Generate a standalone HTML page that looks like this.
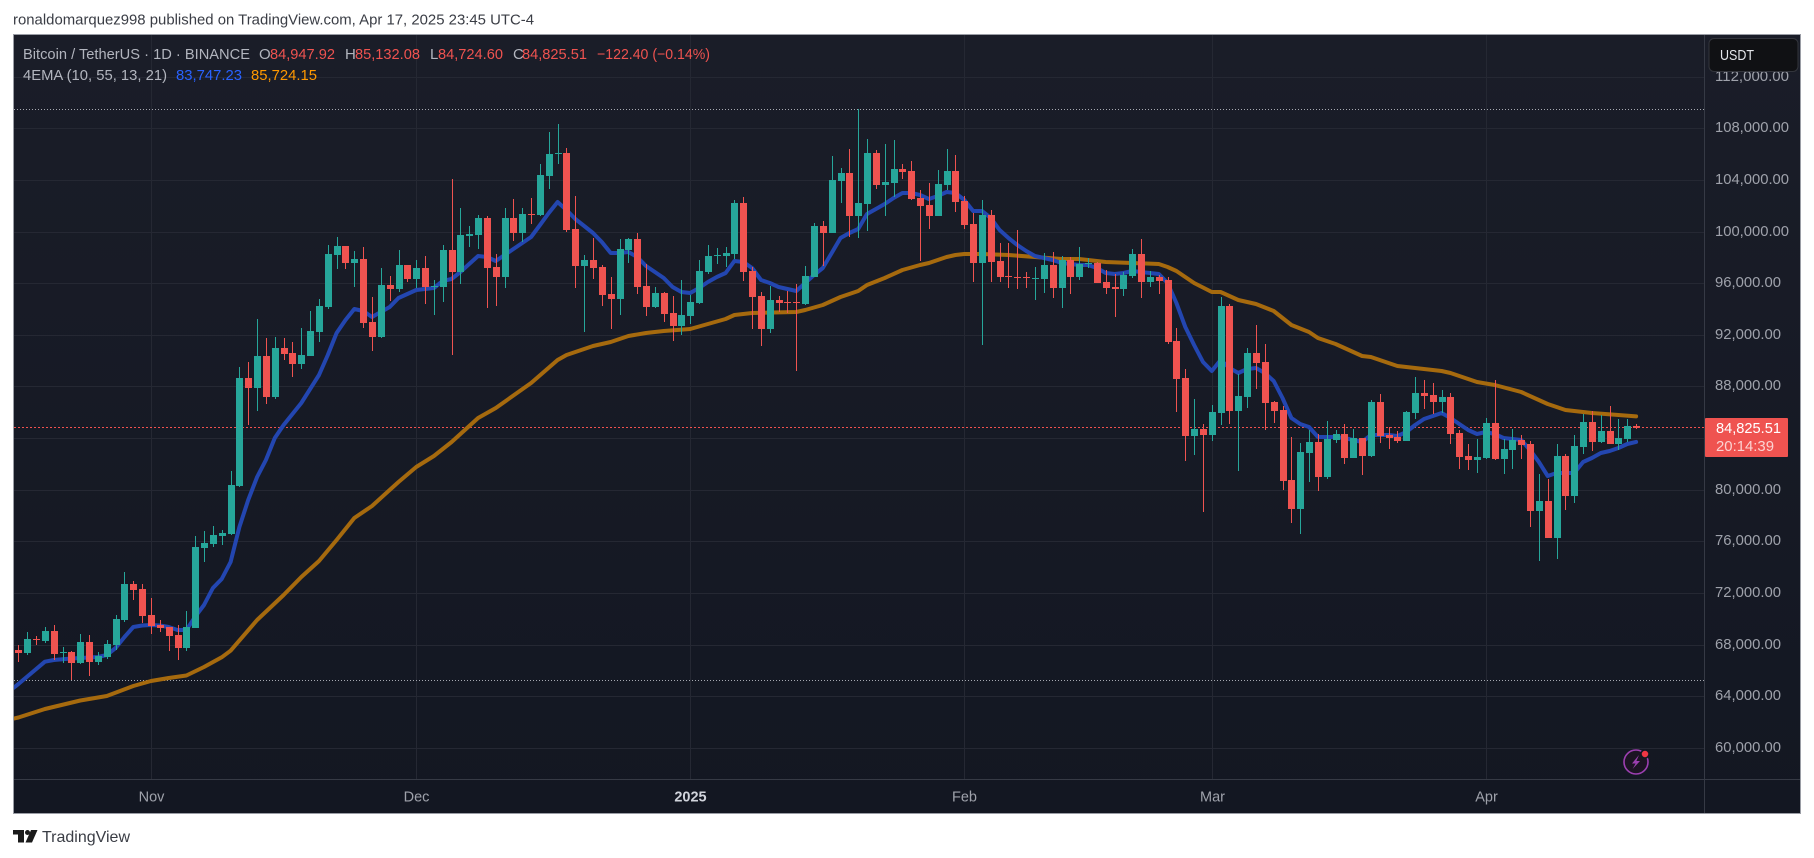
<!DOCTYPE html>
<html lang="en">
<head>
<meta charset="utf-8">
<title>Bitcoin / TetherUS 1D chart</title>
<style>
html,body{margin:0;padding:0;background:#fff;width:1814px;height:858px;overflow:hidden}
svg{display:block;font-family:"Liberation Sans",sans-serif}
</style>
</head>
<body>
<svg id="chart" width="1814" height="858" viewBox="0 0 1814 858" xmlns="http://www.w3.org/2000/svg">
  <defs>
    <linearGradient id="bgGrad" x1="0" y1="0" x2="0" y2="1">
      <stop offset="0" stop-color="#1a1d28"/>
      <stop offset="1" stop-color="#131722"/>
    </linearGradient>
    <clipPath id="plotClip"><rect x="14" y="35" width="1690" height="744"/></clipPath>
  </defs>
  <rect x="0" y="0" width="1814" height="858" fill="#ffffff"/>
  <text x="13" y="24.5" font-size="15" fill="#3a3d45" textLength="521" lengthAdjust="spacingAndGlyphs">ronaldomarquez998 published on TradingView.com, Apr 17, 2025 23:45 UTC-4</text>
  <rect x="13.5" y="34.5" width="1787" height="779" fill="url(#bgGrad)" stroke="#9a9da5" stroke-width="1"/>
  <g id="gridLayer"></g>
  <g id="priceLineLayer"></g>
  <g id="lineLayer" clip-path="url(#plotClip)"></g>
  <g id="candleLayer" clip-path="url(#plotClip)"></g>
  <line x1="1704.5" y1="35" x2="1704.5" y2="813" stroke="#363a45"/>
  <line x1="14" y1="779.5" x2="1800" y2="779.5" stroke="#363a45"/>
  <g id="yTickLayer"></g>
  <g id="xTickLayer"></g>

  <g font-size="15">
    <text x="23" y="59" fill="#b2b5be" textLength="227" lengthAdjust="spacingAndGlyphs">Bitcoin / TetherUS · 1D · BINANCE</text>
    <text x="259" y="59" fill="#b2b5be">O</text>
    <text x="270" y="59" fill="#ef5350" textLength="65" lengthAdjust="spacingAndGlyphs">84,947.92</text>
    <text x="345" y="59" fill="#b2b5be">H</text>
    <text x="355" y="59" fill="#ef5350" textLength="65" lengthAdjust="spacingAndGlyphs">85,132.08</text>
    <text x="430" y="59" fill="#b2b5be">L</text>
    <text x="438" y="59" fill="#ef5350" textLength="65" lengthAdjust="spacingAndGlyphs">84,724.60</text>
    <text x="513" y="59" fill="#b2b5be">C</text>
    <text x="522" y="59" fill="#ef5350" textLength="65" lengthAdjust="spacingAndGlyphs">84,825.51</text>
    <text x="597" y="59" fill="#ef5350" textLength="113" lengthAdjust="spacingAndGlyphs">−122.40 (−0.14%)</text>
  </g>
  <g font-size="15">
    <text x="23" y="80" fill="#b2b5be" textLength="144" lengthAdjust="spacingAndGlyphs">4EMA (10, 55, 13, 21)</text>
    <text x="176" y="80" fill="#2962ff" textLength="66" lengthAdjust="spacingAndGlyphs">83,747.23</text>
    <text x="251" y="80" fill="#ff9800" textLength="66" lengthAdjust="spacingAndGlyphs">85,724.15</text>
  </g>

  <g>
    <rect x="1709" y="38.5" width="89" height="33" rx="5" fill="#101114" stroke="#33353c"/>
    <text x="1720" y="60" font-size="15" fill="#e4e6ea" textLength="34" lengthAdjust="spacingAndGlyphs">USDT</text>
  </g>

  <g>
    <rect x="1705" y="418" width="83" height="39" rx="1" fill="#ef5350"/>
    <text x="1716" y="433" font-size="15" fill="#ffffff" textLength="65" lengthAdjust="spacingAndGlyphs">84,825.51</text>
    <text x="1716" y="451" font-size="15" fill="#fbd3d2" textLength="58" lengthAdjust="spacingAndGlyphs">20:14:39</text>
  </g>

  <g>
    <circle cx="1636" cy="762" r="12" fill="#1c1423" stroke="#9c3fb0" stroke-width="1.6"/>
    <polygon points="1639,755 1632,763.5 1635.6,763.5 1632.6,769 1640,761 1636.4,761" fill="#9c3fb0"/>
    <circle cx="1645" cy="754" r="4" fill="#f23645" stroke="#131722" stroke-width="1.5"/>
  </g>

  <g>
    <rect x="13" y="830" width="11" height="4.5" fill="#1a1a1a"/>
    <rect x="18" y="830" width="6" height="12.5" fill="#1a1a1a"/>
    <circle cx="27.5" cy="832.5" r="2.5" fill="#1a1a1a"/>
    <polygon points="31,830 37.5,830 32,842.5 25.5,842.5" fill="#1a1a1a"/>
    <text x="42" y="842" font-size="16" fill="#3a3d45" textLength="88" lengthAdjust="spacingAndGlyphs">TradingView</text>
  </g>
</svg>
<script>
// Candle series, one entry per trading day, first candle 2024-10-17
const opens = [67620,67380,68470,68310,69090,67380,67460,66610,68240,66690,
67070,68000,69940,72730,72340,70330,69550,69400,68780,67770,
69320,75520,75830,76450,76610,80330,88700,87920,90400,87220,
91020,90630,89780,90400,92260,94200,98230,98930,97610,97920,
93040,91870,95900,95590,97450,96370,97220,95750,95750,98620,
96910,99700,99780,101100,97300,96520,101100,99930,101410,101330,
104350,106060,106130,100240,97380,97840,97300,95210,94820,98620,
99470,95830,94200,95280,93730,92730,93500,94510,96910,98150,
98150,98310,102260,96990,95050,92490,94740,94590,94590,94430,
96520,100480,99930,103960,104580,101250,102180,106130,103650,103810,
104890,104740,102650,102100,101250,103650,104740,102410,100630,97610,
101330,97760,96600,96520,96520,96370,96370,97450,95670,97840,
96520,97530,97610,96140,95750,95590,96600,98310,96140,96520,
96290,91560,88700,84200,84740,84280,85980,94280,86140,87220,
90630,89940,86840,86220,80790,78540,82880,83740,81020,83890,
84360,82500,84050,82650,86840,84280,84120,83810,85980,87530,
87380,86840,87220,84430,82650,82340,82500,85210,82420,83120,
83890,83580,78390,79160,76300,82650,79550,83350,85290,83740,
84590,83580,83970,84947.92];
const highs = [68000,69010,68700,69370,69550,67850,67540,68860,68780,67460,
68390,70330,73660,72960,72730,71650,69940,69400,69550,70640,
76450,76840,77230,76920,81490,89550,89940,93270,91800,91870,
91800,91490,92570,93890,94820,99000,99620,98930,98540,98850,
94970,97220,96600,98620,97450,97840,98150,96290,99000,104120,
101870,100480,101330,101250,98310,101870,102570,101870,102650,105280,
107760,108380,106520,102800,98230,99550,97450,96520,99470,99550,
99930,97530,95750,95360,95050,96290,95130,97840,99000,98770,
98850,102490,102720,97300,95360,95830,95050,95440,95980,97380,
100710,100860,105900,104970,106440,109540,107220,106370,106830,107140,
105280,105510,103270,103810,104820,106440,105980,102800,101480,102490,
101720,99160,99160,100170,96910,97300,98380,98460,98150,98070,
98850,98000,97690,97070,96760,96910,98690,99470,96990,96680,
96520,92570,89390,87070,85130,86600,94970,94430,89010,91020,
92800,91330,86910,86530,84120,83660,84670,84360,85360,84670,
85130,84740,84050,86990,87460,84900,84590,86140,88770,88540,
88310,87770,87530,84670,83580,83970,85600,88540,83970,84740,
84280,83810,81260,80870,83580,82810,84280,85910,86140,85830,
86530,85520,85520,85132.08];
const lows = [66710,67230,68000,68160,66840,66610,65290,66530,65600,66450,
66920,67620,69790,71490,69710,68860,69010,67540,66840,67540,
69320,74440,75600,75750,76530,80250,85050,86140,86680,87070,
90090,88770,89390,90400,91490,94040,97140,97140,95750,92570,
90790,91800,94660,95360,96140,95670,94430,93580,94590,90480,
95980,98850,98690,94120,94280,95670,99310,99240,100630,101250,
103340,105280,100010,95670,92260,96370,94280,92490,93580,97610,
95210,93500,94120,93040,91560,92030,92880,94430,96760,97530,
97300,97920,96210,92490,91180,92180,93810,93730,89240,94350,
96520,97380,99930,102260,99620,99550,100090,103340,101250,102720,
104120,102490,97760,100240,101250,103270,101560,100240,96140,91250,
96140,96140,95670,95590,95670,94740,95280,94900,94120,95210,
96290,97220,96060,95210,93420,95050,96450,94900,95750,95210,
91330,86060,82260,82730,78310,83810,85050,85130,81490,86370,
87840,84670,85210,80020,77460,76610,80640,79940,80870,83660,
82030,82500,81180,82570,83660,83190,83660,83810,85520,86290,
85910,85980,83580,81640,81570,81330,82420,82340,81260,81640,
82420,77150,74510,76300,74670,78470,79010,82810,83040,83660,
83580,83120,83740,84724.60];
const closes = [67380,68470,68390,69090,67310,67460,66610,68240,66690,67150,
68080,70020,72730,72270,70250,69480,69320,68700,67770,69400,
75600,75910,76530,76680,80400,88700,87920,90400,87220,91020,
90560,89780,90480,92340,94280,98310,98930,97610,97920,92960,
91870,95900,95590,97450,96370,97220,95750,95830,98620,96910,
99780,99860,101100,97220,96520,101100,99930,101410,101330,104430,
106060,106130,100170,97380,97840,97220,95130,94820,98690,99470,
95750,94200,95280,93660,92730,93580,94590,96990,98150,98230,
98380,102260,96910,94970,92490,94740,94510,94510,94510,96600,
100480,99930,104040,104580,101250,102260,106130,103650,103890,104890,
104660,102570,102030,101250,103730,104740,102340,100550,97610,101330,
97690,96520,96520,96450,96450,96450,97450,95670,97840,96520,
97530,97610,96060,95670,95590,96680,98310,96140,96520,96210,
91490,88620,84200,84740,84280,86060,94280,86140,87300,90630,
89860,86760,86140,80710,78540,82960,83740,81020,83970,84360,
82500,84050,82650,86840,84200,84050,83810,86060,87530,87300,
86840,87220,84360,82570,82340,82570,85210,82420,83190,83890,
83500,78390,79160,76300,82650,79550,83430,85290,83740,84590,
83580,84050,84980,84825.51];

// EMA series: candle number (1 = first candle, 0 = one day before it) and value
const blueDays = [0,1,4,5,7,10,11,12,13,14,15,16,17,18,19,20,21,22,23,24,25,26,27,28,29,30,31,33,35,36,37,38,39,40,41,42,43,44,46,48,49,50,51,52,53,54,55,56,57,59,60,61,62,63,64,65,66,67,68,69,70,71,72,73,74,75,76,77,78,79,80,81,82,83,84,85,86,87,88,89,90,91,92,93,94,95,96,97,98,99,100,101,102,103,104,105,106,107,108,109,110,111,112,113,114,115,116,117,118,119,120,121,122,123,124,125,126,127,128,129,130,131,132,133,134,135,136,137,138,139,140,141,142,143,144,145,146,147,148,149,150,151,152,153,154,155,156,157,158,159,160,161,162,163,164,165,166,167,168,169,170,171,172,173,174,175,176,177,178,179,180,181,182,183,184];
const blueValues = [64439,64981,66709,66841,66957,67073,67228,67771,68623,69398,69515,69553,69515,69398,69166,69166,70197,71103,72421,73118,74436,77148,79241,81023,82341,84046,85053,86758,88928,90478,92183,93191,94043,93888,93423,93811,94198,94896,95516,95671,96213,96368,96911,97531,98151,98073,97763,98228,98693,99623,100553,101483,102336,101716,101018,100476,99933,99236,98383,98383,98461,98073,97376,96911,96446,95748,95361,95283,95671,96136,96523,96833,97763,97686,97221,96291,96058,95748,95593,95438,96058,96678,97221,98383,99546,99933,100243,101406,101793,102181,102646,103033,103033,102878,102568,102801,103111,103033,102491,101638,101638,101096,100166,99546,99003,98538,98151,97996,97841,97608,97531,97453,97453,97221,96833,96756,96833,96988,96911,96833,96756,96058,94508,92648,91253,89936,89238,90091,89471,89083,89393,89471,89083,88463,87146,85596,85131,84898,84123,84123,84123,84046,83891,83736,84278,84278,84278,84201,84511,85053,85518,85751,85983,85596,85131,84666,84356,84511,84356,84046,83968,83891,83116,82186,81101,81333,81333,81333,82186,82496,82883,83038,83271,83581,83747.23];
const orangeDays = [0,1,4,8,11,14,16,18,20,22,24,25,28,31,33,35,37,39,41,44,46,48,50,53,55,59,62,63,66,68,70,72,74,77,79,81,82,84,89,90,92,94,96,97,99,101,103,104,106,107,108,110,113,116,119,121,124,127,130,131,132,134,136,137,139,141,143,145,147,148,150,153,154,157,159,162,163,166,168,171,174,175,176,179,182,184];
const orangeValues = [62230,62385,63043,63702,64051,64826,65213,65446,65640,66298,67050,67562,69941,71878,73273,74513,76141,77846,78776,80636,81798,82651,83736,85596,86371,88308,90091,90478,91176,91486,91951,92183,92338,92493,92881,93268,93578,93733,93811,93966,94353,94973,95438,95903,96446,97066,97453,97608,98073,98228,98306,98306,98228,98073,97918,97918,97686,97608,97531,97298,96988,96058,95361,95361,94741,94431,93888,92803,92261,91796,91331,90401,90323,89626,89471,89238,89083,88386,88153,87611,86681,86448,86216,85983,85828,85724.15];

// Axis ticks
const priceTicks = [112000,108000,104000,100000,96000,92000,88000,84000,80000,76000,72000,68000,64000,60000];
const priceTickLabels = ["112,000.00","108,000.00","104,000.00","100,000.00","96,000.00","92,000.00","88,000.00",null,"80,000.00","76,000.00","72,000.00","68,000.00","64,000.00","60,000.00"];
const timeTickCandles = [16,46,77,108,136,167];
const timeTickLabels = ["Nov","Dec","2025","Feb","Mar","Apr"];

const NS = "http://www.w3.org/2000/svg";
function xScale(n){ return 18.4 + (n - 1) * 8.84; }
function yScale(p){ return 77.3 + (112000 - p) * 0.012904; }

function make(tag, parent, attrs){
  const el = document.createElementNS(NS, tag);
  Object.keys(attrs).forEach(function(k){ el.setAttribute(k, attrs[k]); });
  parent.appendChild(el);
  return el;
}

const gridLayer = document.getElementById("gridLayer");
const yTickLayer = document.getElementById("yTickLayer");
const xTickLayer = document.getElementById("xTickLayer");
const lineLayer = document.getElementById("lineLayer");
const candleLayer = document.getElementById("candleLayer");
const priceLineLayer = document.getElementById("priceLineLayer");

priceTicks.forEach(function(p, i){
  const y = Math.floor(yScale(p)) + 0.5;
  const g = make("line", gridLayer, {x1:14, x2:1704, y1:y, y2:y, stroke:"#252833"});
  
  
  const label = priceTickLabels[i];
  if (label !== null) {
    const t = make("text", yTickLayer, {x:1715, y:y + 3.5, "font-size":15, fill:"#9fa2ab", textLength: label.length === 10 ? 74 : 66, lengthAdjust:"spacingAndGlyphs"});
    
    
    t.textContent = label;
  }
});

timeTickCandles.forEach(function(n, i){
  const x = Math.round(xScale(n)) + 0.5;
  const g = make("line", gridLayer, {x1:x, x2:x, y1:35, y2:779, stroke:"#252833"});
  
  
  const isYear = timeTickLabels[i] === "2025";
  const t = make("text", xTickLayer, {x:x, y:801.5, "font-size":14.5, "text-anchor":"middle", fill: isYear ? "#d1d4dc" : "#9fa2ab", "font-weight": isYear ? "bold" : "normal"});
  
  
  t.textContent = timeTickLabels[i];
});

const highestHigh = Math.max.apply(null, highs);
const lowestLow = Math.min.apply(null, lows);
const highY = Math.floor(yScale(highestHigh)) + 0.5;
const lowY = Math.floor(yScale(lowestLow)) + 0.5;
const lastY = Math.floor(yScale(closes[closes.length - 1])) + 0.5;

const highLine = make("line", priceLineLayer, {x1:14, x2:1704, y1:highY, y2:highY, stroke:"#a6a9b1", "stroke-dasharray":"1 2"});


const lowLine = make("line", priceLineLayer, {x1:14, x2:1704, y1:lowY, y2:lowY, stroke:"#a6a9b1", "stroke-dasharray":"1 2"});


const lastLine = make("line", priceLineLayer, {x1:14, x2:1704, y1:lastY, y2:lastY, stroke:"#f0514e", "stroke-dasharray":"2 2"});



function linePoints(days, values){
  return days.map(function(d, i){ return xScale(d).toFixed(1) + "," + yScale(values[i]).toFixed(1); }).join(" ");
}
const orangeLine = make("polyline", lineLayer, {points:linePoints(orangeDays, orangeValues), fill:"none", stroke:"#a66a0e", "stroke-width":4, "stroke-linejoin":"round", "stroke-linecap":"round"});


const blueLine = make("polyline", lineLayer, {points:linePoints(blueDays, blueValues), fill:"none", stroke:"#2346b0", "stroke-width":4, "stroke-linejoin":"round", "stroke-linecap":"round"});



opens.forEach(function(o, i){
  const c = closes[i];
  const up = c >= o;
  const color = up ? "#26a69a" : "#ef5350";
  const cx = Math.round(xScale(i + 1));
  const top = Math.round(yScale(Math.max(o, c)));
  const bottom = Math.round(yScale(Math.min(o, c)));
  const hiY = Math.round(yScale(highs[i]));
  const loY = Math.round(yScale(lows[i]));
  const wick = make("rect", candleLayer, {x:cx, y:hiY, width:1, height:Math.max(1, loY - hiY), fill:color, "shape-rendering":"crispEdges"});
  
  
  const body = make("rect", candleLayer, {x:cx - 3, y:top, width:7, height:Math.max(1, bottom - top), fill:color, "shape-rendering":"crispEdges"});
  
  
});
</script>
</body>
</html>
